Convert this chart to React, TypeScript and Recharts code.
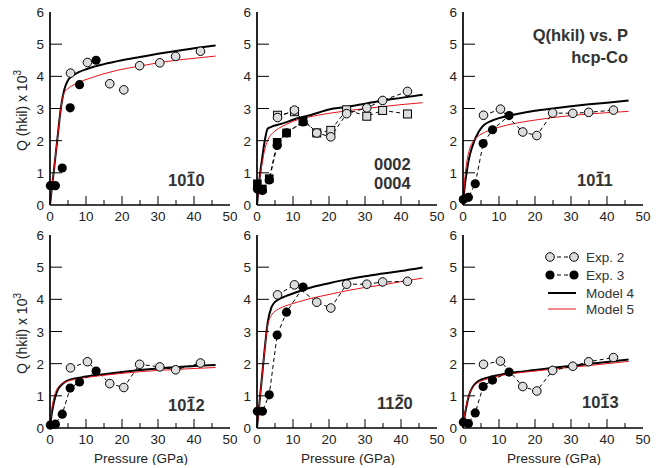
import React from "react";
import { ComposedChart, Line, XAxis, YAxis } from "recharts";

const FONT = '"Liberation Sans", Arial, Helvetica, sans-serif';
const INK = "#222";

// axes
const pressureTicks = [0, 5, 10, 15, 20, 25, 30, 35, 40, 45, 50];
const qTicks = [0, 1, 2, 3, 4, 5, 6];

// pressures (GPa) shared by the experiments and the models
const exp3P = [0.1, 1.5, 3.4, 5.6, 8.2, 12.8];
const exp2P = [5.7, 10.4, 16.6, 20.5, 24.9, 30.5, 34.9, 41.8];
const modelP = [0, 0.5, 1, 1.5, 2, 3, 4, 5, 6, 8, 10, 15, 20, 25, 30, 35, 40, 46];

// 10-10
const q1010Exp2 = [4.1, 4.43, 3.77, 3.58, 4.33, 4.42, 4.62, 4.78];
const q1010Exp3 = [0.6, 0.6, 1.15, 3.02, 3.74, 4.5];
const q1010M4 = [0, 0.5, 1.0, 1.5, 2.0, 3.0, 3.6, 3.88, 4.0, 4.13, 4.22, 4.38, 4.5, 4.6, 4.7, 4.79, 4.87, 4.96];
const q1010M5 = [0, 0.5, 1.0, 1.5, 2.0, 3.0, 3.5, 3.62, 3.7, 3.82, 3.9, 4.08, 4.22, 4.32, 4.42, 4.5, 4.56, 4.63];

// 0002 / 0004
const q0002Exp2 = [2.72, 2.95, 2.24, 2.12, 2.84, 3.02, 3.25, 3.53];
const q0004Exp2 = [2.79, 2.9, 2.24, 2.32, 2.96, 2.76, 2.94, 2.83];
const q0002Exp3 = [0.5, 0.45, 0.78, 1.85, 2.24, 2.58];
const q0004Exp3 = [0.66, 0.5, 0.82, 1.95, 2.24, 2.6];
const q0002M4 = [0, 0.6, 1.1, 1.5, 1.9, 2.38, 2.43, 2.47, 2.5, 2.57, 2.65, 2.8, 2.97, 3.05, 3.15, 3.25, 3.33, 3.43];
const q0002M5 = [0, 0.6, 1.0, 1.35, 1.65, 2.02, 2.2, 2.3, 2.38, 2.5, 2.6, 2.75, 2.85, 2.93, 3.0, 3.06, 3.12, 3.18];

// 10-11
const q1011Exp2 = [2.79, 2.98, 2.27, 2.16, 2.86, 2.85, 2.88, 2.95];
const q1011Exp3 = [0.17, 0.24, 0.66, 1.91, 2.34, 2.78];
const q1011M4 = [0, 0.6, 1.0, 1.35, 1.6, 1.95, 2.2, 2.38, 2.5, 2.62, 2.7, 2.83, 2.93, 3.0, 3.07, 3.13, 3.18, 3.25];
const q1011M5 = [0, 0.8, 1.3, 1.6, 1.8, 2.0, 2.12, 2.2, 2.26, 2.35, 2.42, 2.55, 2.64, 2.72, 2.78, 2.83, 2.87, 2.91];

// 10-12
const q1012Exp2 = [1.87, 2.06, 1.38, 1.26, 1.98, 1.9, 1.81, 2.02];
const q1012Exp3 = [0.09, 0.12, 0.43, 1.24, 1.43, 1.77];
const q1012M4 = [0, 0.45, 0.75, 0.98, 1.15, 1.32, 1.42, 1.48, 1.52, 1.56, 1.6, 1.67, 1.74, 1.8, 1.85, 1.89, 1.93, 1.96];
const q1012M5 = [0, 0.6, 0.9, 1.1, 1.22, 1.35, 1.42, 1.46, 1.49, 1.53, 1.57, 1.64, 1.7, 1.75, 1.79, 1.82, 1.85, 1.88];

// 11-20
const q1120Exp2 = [4.14, 4.45, 3.91, 3.73, 4.47, 4.47, 4.54, 4.56];
const q1120Exp3 = [0.52, 0.52, 1.03, 2.89, 3.6, 4.38];
const q1120M4 = [0, 0.57, 1.15, 1.72, 2.3, 3.3, 3.75, 3.92, 4.0, 4.1, 4.18, 4.37, 4.5, 4.62, 4.72, 4.8, 4.88, 4.99];
const q1120M5 = [0, 0.57, 1.15, 1.72, 2.3, 3.2, 3.5, 3.63, 3.7, 3.8, 3.87, 4.03, 4.15, 4.27, 4.37, 4.45, 4.55, 4.66];

// 10-13
const q1013Exp2 = [1.98, 2.08, 1.29, 1.15, 1.79, 1.92, 2.06, 2.19];
const q1013Exp3 = [0.18, 0.14, 0.47, 1.29, 1.49, 1.74];
const q1013M4 = [0, 0.4, 0.7, 0.95, 1.12, 1.33, 1.44, 1.5, 1.54, 1.6, 1.65, 1.74, 1.8, 1.87, 1.93, 1.99, 2.05, 2.13];
const q1013M5 = [0, 0.45, 0.75, 0.98, 1.12, 1.3, 1.4, 1.46, 1.5, 1.57, 1.62, 1.71, 1.77, 1.83, 1.89, 1.94, 2.0, 2.07];

const legendNames = ["Exp. 2", "Exp. 3", "Model 4", "Model 5"];
const titleLines = ["Q(hkil) vs. P", "hcp-Co"];

const pts = (ps: number[], qs: number[]) => qs.map((q, i) => ({ p: ps[i], q }));

type Marker = "openCircle" | "filledCircle" | "openSquare" | "filledSquare";
type Series = { data: { p: number; q: number }[]; marker: Marker };

function drawMarker(kind: Marker, cx: number, cy: number, key?: any) {
  if (kind === "openCircle") return <circle key={key} cx={cx} cy={cy} r={4.3} fill="#ddd" stroke="#000" strokeWidth={1} />;
  if (kind === "filledCircle") return <circle key={key} cx={cx} cy={cy} r={4.6} fill="#000" />;
  if (kind === "openSquare") return <rect key={key} x={cx - 4} y={cy - 4} width={8} height={8} fill="#ddd" stroke="#000" strokeWidth={1} />;
  return <rect key={key} x={cx - 4.3} y={cy - 4.3} width={8.6} height={8.6} fill="#000" />;
}

const makeDot = (kind: Marker) => (props: any) => {
  const { cx, cy, index } = props;
  if (cx == null || cy == null) return <g key={index} />;
  return drawMarker(kind, cx, cy, index);
};

function BottomTick(props: any) {
  const { x, y, payload } = props;
  const v = payload.value;
  const major = v % 10 === 0;
  return (
    <g>
      {v > 0 && v < 50 && <line x1={x} x2={x} y1={y} y2={y - (major ? 9 : 5)} stroke="#000" />}
      {major && (
        <text x={x} y={y + 16} textAnchor="middle" fontSize={13.5} fill={INK} fontFamily={FONT}>
          {v}
        </text>
      )}
    </g>
  );
}

function TopTick(props: any) {
  const { x, y, payload } = props;
  const v = payload.value;
  if (v <= 0 || v >= 50) return <g />;
  return <line x1={x} x2={x} y1={y} y2={y + (v % 10 === 0 ? 9 : 5)} stroke="#000" />;
}

function LeftTick(props: any) {
  const { x, y, payload } = props;
  const v = payload.value;
  return (
    <g>
      {v > 0 && v < 6 && <line x1={x} x2={x + 12} y1={y} y2={y} stroke="#000" />}
      <text x={x - 6} y={y + 5} textAnchor="end" fontSize={13.5} fill={INK} fontFamily={FONT}>
        {v}
      </text>
    </g>
  );
}

function RightTick(props: any) {
  const { x, y, payload } = props;
  const v = payload.value;
  if (v <= 0 || v >= 6) return <g />;
  return <line x1={x} x2={x - 12} y1={y} y2={y} stroke="#000" />;
}

function PressureLabel(props: any) {
  const { viewBox } = props;
  return (
    <text x={viewBox.x + viewBox.width / 2 + 1} y={viewBox.y + 35} textAnchor="middle" fontSize={13.5} fill={INK} fontFamily={FONT}>
      Pressure (GPa)
    </text>
  );
}

function QLabel(props: any) {
  const { viewBox } = props;
  const cx = viewBox.x + 12;
  const cy = viewBox.y + viewBox.height / 2 + 2;
  return (
    <text transform={`rotate(-90 ${cx} ${cy})`} x={cx} y={cy + 5} textAnchor="middle" fontSize={14} fill={INK} fontFamily={FONT}>
      Q (hkil) x 10<tspan dy={-6} fontSize={10}>3</tspan>
    </text>
  );
}

const frame = { stroke: "#000", strokeWidth: 1.7 };

function Panel({ left, top, m4, m5, exp, joined, yLabel, xLabel }: {
  left: number; top: number; m4: number[]; m5: number[]; exp: Series[]; joined: boolean; yLabel: boolean; xLabel: boolean;
}) {
  return (
    <div style={{ position: "absolute", left: left - 45, top: top - 10 }}>
      <ComposedChart width={235} height={240} margin={{ top: 10, right: 10, bottom: 0, left: 5 }}>
        <XAxis xAxisId="b" dataKey="p" type="number" domain={[0, 50]} ticks={pressureTicks} interval={0}
          tickSize={0} tickMargin={0} tickLine={false} height={37} axisLine={frame} tick={(p: any) => <BottomTick {...p} />}
          label={xLabel ? <PressureLabel /> : undefined} />
        <XAxis xAxisId="t" orientation="top" dataKey="p" type="number" domain={[0, 50]} ticks={pressureTicks} interval={0}
          tickSize={0} tickMargin={0} tickLine={false} height={0} axisLine={frame} tick={(p: any) => <TopTick {...p} />} />
        <YAxis yAxisId="l" type="number" domain={[0, 6]} ticks={qTicks} interval={0} width={40}
          tickSize={0} tickMargin={0} tickLine={false} axisLine={frame} tick={(p: any) => <LeftTick {...p} />}
          label={yLabel ? <QLabel /> : undefined} />
        <YAxis yAxisId="r" orientation="right" type="number" domain={[0, 6]} ticks={qTicks} interval={0} width={0}
          tickSize={0} tickMargin={0} tickLine={false} axisLine={frame} tick={(p: any) => <RightTick {...p} />} />
        <Line xAxisId="b" yAxisId="l" data={pts(modelP, m4)} dataKey="q" type="monotone" stroke="#000" strokeWidth={2}
          dot={false} isAnimationActive={false} />
        <Line xAxisId="t" yAxisId="r" data={pts(modelP, m5)} dataKey="q" type="monotone" stroke="#e8141c" strokeWidth={1}
          dot={false} isAnimationActive={false} />
        {exp.map((s, i) => (
          <Line key={i} xAxisId="b" yAxisId="l" data={s.data} dataKey="q" type="linear"
            stroke={joined ? "#000" : "none"} strokeWidth={1} strokeDasharray="4 3"
            dot={makeDot(s.marker)} activeDot={false} isAnimationActive={false} />
        ))}
      </ComposedChart>
    </div>
  );
}

function Miller({ x, y, text, bar }: { x: number; y: number; text: string; bar: number }) {
  const cw = 16.5 * 0.556;
  return (
    <g>
      <text x={x} y={y} fontSize={16.5} fontWeight="bold" fill="#333" fontFamily={FONT}>{text}</text>
      {bar >= 0 && (
        <line x1={x + bar * cw + 1.5} x2={x + (bar + 1) * cw - 1} y1={y - 13.5} y2={y - 13.5} stroke="#333" strokeWidth={1.6} />
      )}
    </g>
  );
}

export default function App() {
  const lx = [550, 574];
  const ly = [257, 275, 293, 309];
  return (
    <div style={{ position: "absolute", left: 0, top: 0, width: 667, height: 468, background: "#fff", fontFamily: FONT }}>
      <Panel left={50} top={12} m4={q1010M4} m5={q1010M5} joined={false} yLabel xLabel={false}
        exp={[{ data: pts(exp2P, q1010Exp2), marker: "openCircle" }, { data: pts(exp3P, q1010Exp3), marker: "filledCircle" }]} />
      <Panel left={257} top={12} m4={q0002M4} m5={q0002M5} joined yLabel={false} xLabel={false}
        exp={[
          { data: pts(exp2P, q0004Exp2), marker: "openSquare" },
          { data: pts(exp2P, q0002Exp2), marker: "openCircle" },
          { data: pts(exp3P, q0004Exp3), marker: "filledSquare" },
          { data: pts(exp3P, q0002Exp3), marker: "filledCircle" },
        ]} />
      <Panel left={463} top={12} m4={q1011M4} m5={q1011M5} joined yLabel={false} xLabel={false}
        exp={[{ data: pts(exp2P, q1011Exp2), marker: "openCircle" }, { data: pts(exp3P, q1011Exp3), marker: "filledCircle" }]} />
      <Panel left={50} top={235} m4={q1012M4} m5={q1012M5} joined yLabel xLabel
        exp={[{ data: pts(exp2P, q1012Exp2), marker: "openCircle" }, { data: pts(exp3P, q1012Exp3), marker: "filledCircle" }]} />
      <Panel left={257} top={235} m4={q1120M4} m5={q1120M5} joined yLabel={false} xLabel
        exp={[{ data: pts(exp2P, q1120Exp2), marker: "openCircle" }, { data: pts(exp3P, q1120Exp3), marker: "filledCircle" }]} />
      <Panel left={463} top={235} m4={q1013M4} m5={q1013M5} joined yLabel={false} xLabel
        exp={[{ data: pts(exp2P, q1013Exp2), marker: "openCircle" }, { data: pts(exp3P, q1013Exp3), marker: "filledCircle" }]} />

      <svg width={667} height={468} style={{ position: "absolute", left: 0, top: 0, pointerEvents: "none" }}>
        <Miller x={168} y={186} text="1010" bar={2} />
        <Miller x={374} y={170} text="0002" bar={-1} />
        <Miller x={374} y={189} text="0004" bar={-1} />
        <Miller x={577} y={186} text="1011" bar={2} />
        <Miller x={168} y={411} text="1012" bar={2} />
        <Miller x={377} y={409} text="1120" bar={2} />
        <Miller x={582} y={408} text="1013" bar={2} />

        {titleLines.map((t, i) => (
          <text key={t} x={628} y={41 + i * 22} textAnchor="end" fontSize={16.5} fontWeight="bold" fill="#333" fontFamily={FONT}>{t}</text>
        ))}

        {legendNames.map((name, i) => (
          <g key={name}>
            {i < 2 && <line x1={lx[0]} x2={lx[1]} y1={ly[i]} y2={ly[i]} stroke="#000" strokeDasharray="4 3" />}
            {i < 2 && lx.map((x, k) => drawMarker(i === 0 ? "openCircle" : "filledCircle", x, ly[i], k))}
            {i === 2 && <line x1={lx[0] - 2} x2={lx[1] + 2} y1={ly[i]} y2={ly[i]} stroke="#000" strokeWidth={2} />}
            {i === 3 && <line x1={lx[0] - 2} x2={lx[1] + 2} y1={ly[i]} y2={ly[i]} stroke="#e8141c" strokeWidth={1} />}
            <text x={586} y={ly[i] + 5} fontSize={13.5} fill="#333" fontFamily={FONT}>{name}</text>
          </g>
        ))}
      </svg>
    </div>
  );
}
